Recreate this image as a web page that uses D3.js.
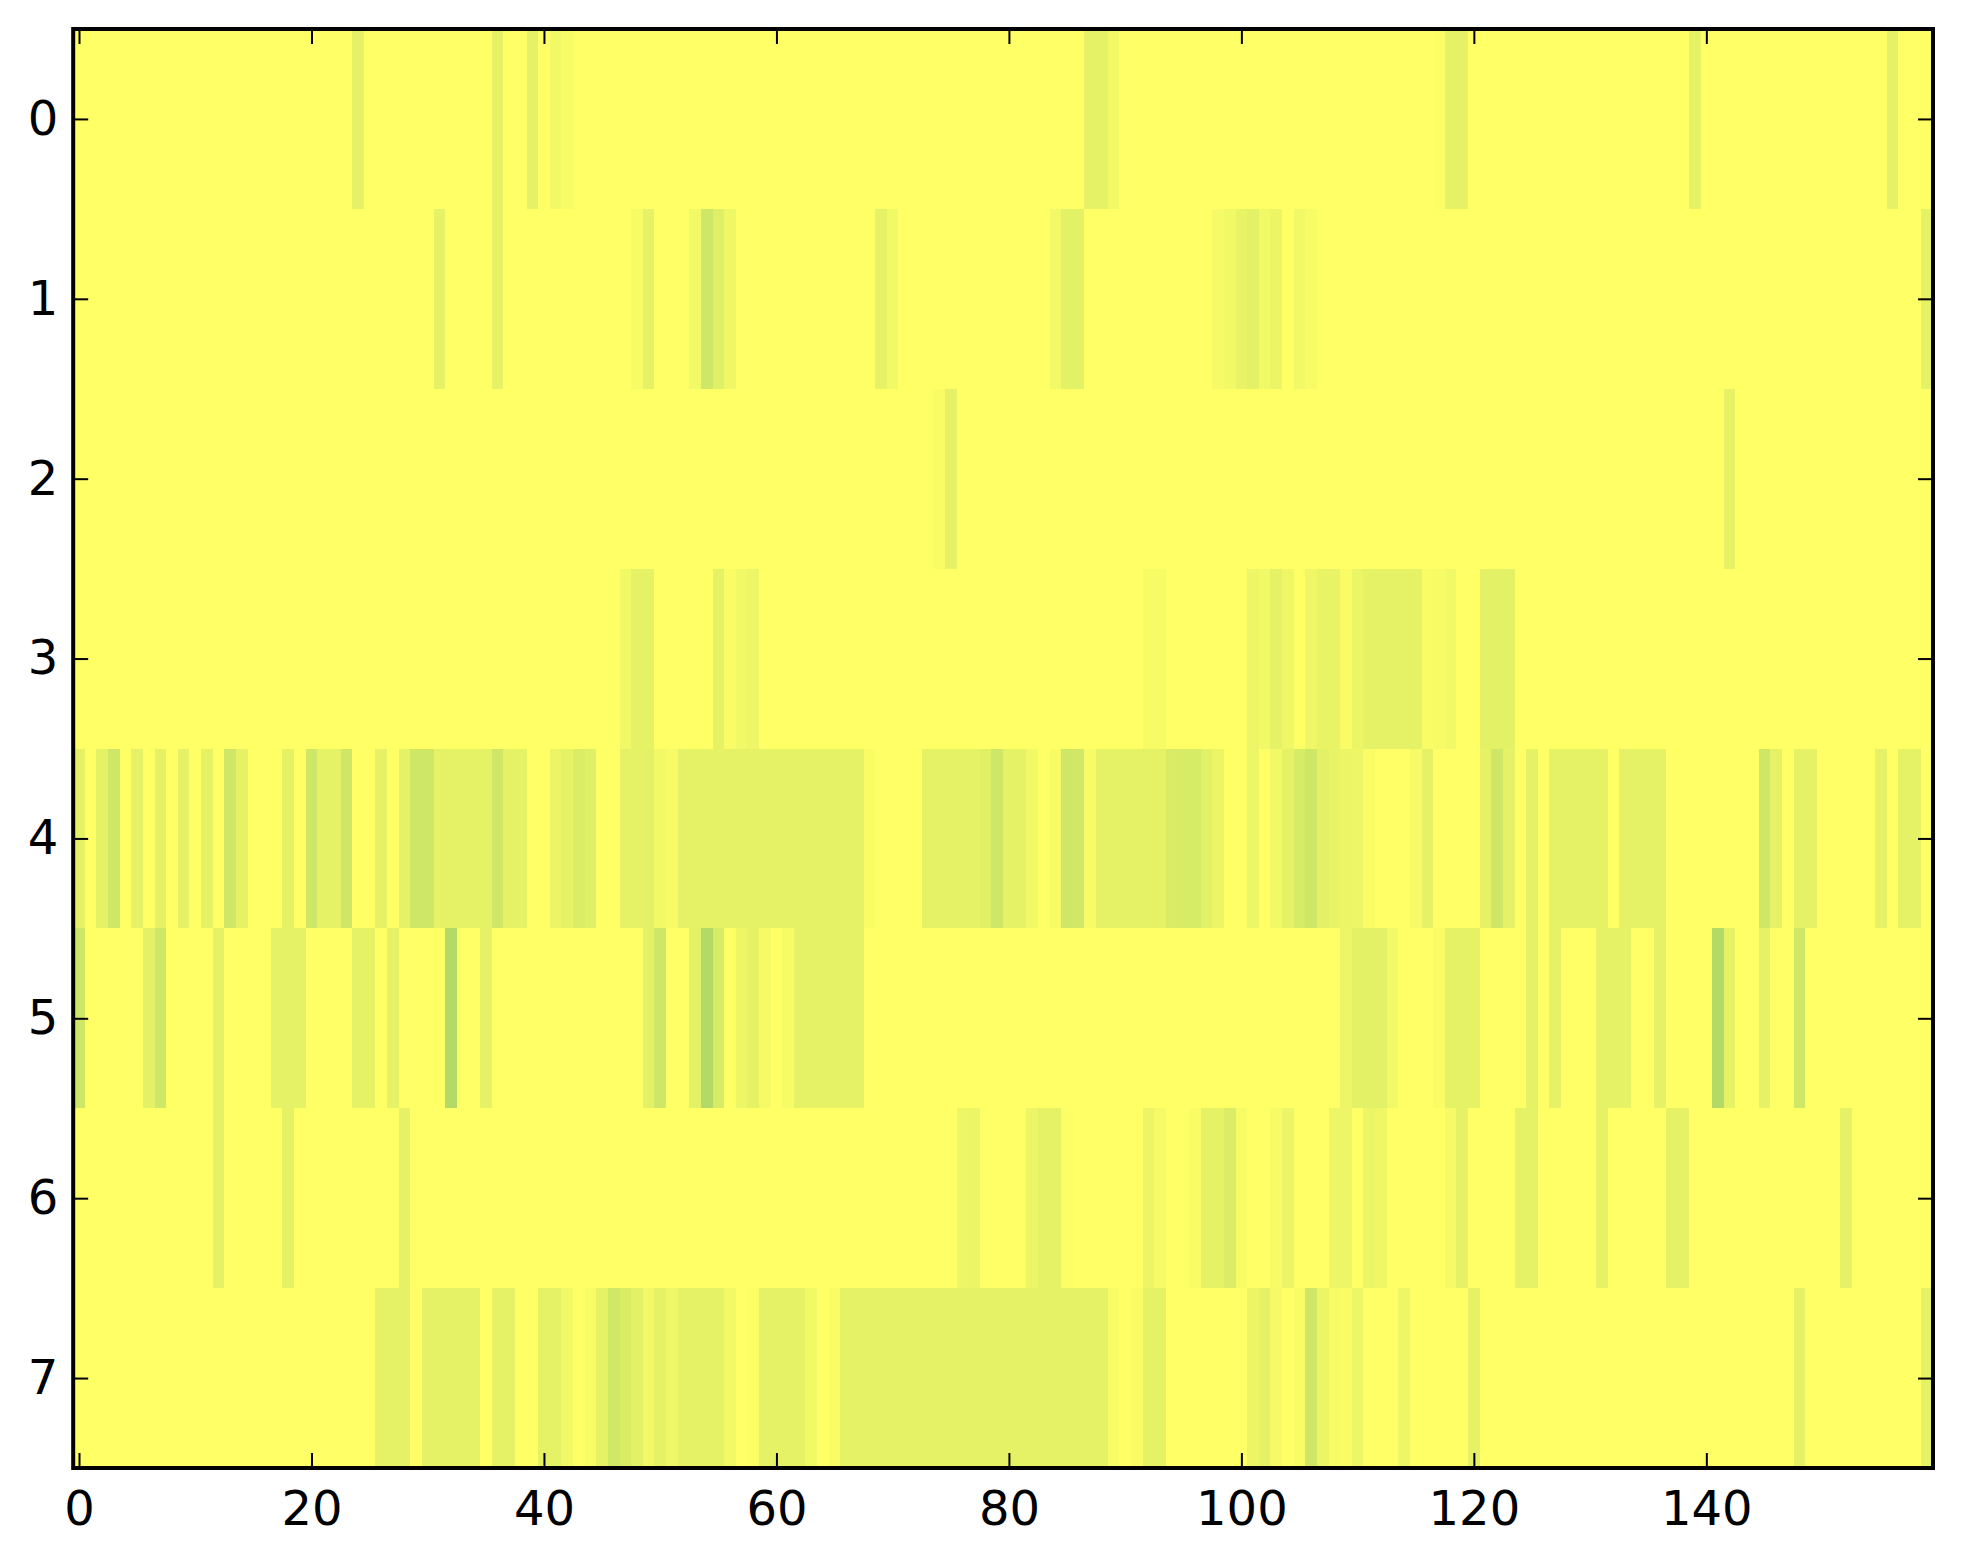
<!DOCTYPE html>
<html>
<head>
<meta charset="utf-8">
<script src="https://cdn.jsdelivr.net/npm/d3@7"></script>
<style>
html,body{margin:0;padding:0;background:#fff;overflow:hidden}
svg{display:block}
text{font-family:"DejaVu Sans",sans-serif;fill:#000}
</style>
</head>
<body>
<svg id="c" width="1963" height="1564"></svg>
<script>
const xTicks=[0,20,40,60,80,100,120,140];
const yTicks=[0,1,2,3,4,5,6,7];
const row0=[0,0,0,0,0,0,0,0,0,0, 0,0,0,0,0,0,0,0,0,0, 0,0,0,0,10,0,0,0,0,0, 0,0,0,0,0,0,10,0,0,10,
 0,5,3,0,0,0,0,0,0,0, 0,0,0,0,0,0,0,0,0,0, 0,0,0,0,0,0,0,0,0,0, 0,0,0,0,0,0,0,0,0,0,
 0,0,0,0,0,0,0,10,10,5, 0,0,0,0,0,0,0,0,0,0, 0,0,0,0,0,0,0,0,0,0, 0,0,0,0,0,0,0,1,10,10,
 0,0,0,0,0,0,0,0,0,0, 0,0,0,0,0,0,0,0,0,10, 0,0,0,0,0,0,0,0,0,0, 0,0,0,0,0,0,10,0,0,0];
const row1=[0,0,0,0,0,0,0,0,0,0, 0,0,0,0,0,0,0,0,0,0, 0,0,0,0,0,0,0,0,0,0, 0,10,0,0,0,0,10,0,0,0,
 0,0,0,0,0,0,0,0,3,10, 0,0,0,5,19,12,6,0,0,0, 0,0,0,0,0,0,0,0,0,10, 5,0,0,0,0,0,0,0,0,0,
 0,0,0,0,5,11,11,0,0,0, 0,0,0,0,0,0,0,0,4,5, 9,11,5,8,0,5,3,0,0,0, 0,0,0,0,0,0,0,0,0,0,
 0,0,0,0,0,0,0,0,0,0, 0,0,0,0,0,0,0,0,0,0, 0,0,0,0,0,0,0,0,0,0, 0,0,0,0,0,0,0,0,0,10];
const row2=[0,0,0,0,0,0,0,0,0,0, 0,0,0,0,0,0,0,0,0,0, 0,0,0,0,0,0,0,0,0,0, 0,0,0,0,0,0,0,0,0,0,
 0,0,0,0,0,0,0,0,0,0, 0,0,0,0,0,0,0,0,0,0, 0,0,0,0,0,0,0,0,0,0, 0,0,0,0,2,10,0,0,0,0,
 0,0,0,0,0,0,0,0,0,0, 0,0,0,0,0,0,0,0,0,0, 0,0,0,0,0,0,0,0,0,0, 0,0,0,0,0,0,0,0,0,0,
 0,0,0,0,0,0,0,0,0,0, 0,0,0,0,0,0,0,0,0,0, 0,0,10,0,0,0,0,0,0,0, 0,0,0,0,0,0,0,0,0,0];
const row3=[0,0,0,0,0,0,0,0,0,0, 0,0,0,0,0,0,0,0,0,0, 0,0,0,0,0,0,0,0,0,0, 0,0,0,0,0,0,0,0,0,0,
 0,0,0,0,0,0,0,5,10,10, 0,0,0,0,0,10,2,5,7,0, 0,0,0,0,0,0,0,0,0,0, 0,0,0,0,0,0,0,0,0,0,
 0,0,0,0,0,0,0,0,0,0, 0,0,3,3,0,0,0,0,0,0, 0,7,5,10,6,0,6,9,9,2, 8,10,10,10,10,10,2,3,5,0,
 0,11,11,11,0,0,0,0,0,0, 0,0,0,0,0,0,0,0,0,0, 0,0,0,0,0,0,0,0,0,0, 0,0,0,0,0,0,0,0,0,0];
const row4=[10,0,10,19,0,10,0,10,0,10, 0,10,0,19,10,0,0,0,10,0, 19,10,10,19,0,0,10,0,10,19, 19,10,10,10,10,10,19,10,10,0,
 0,8,10,14,12,0,0,10,10,11, 5,3,10,10,10,10,10,10,10,10, 10,10,10,10,10,10,10,10,2,0, 0,0,0,10,10,10,10,10,12,19,
 10,10,5,0,3,19,18,3,10,10, 10,10,10,10,15,16,16,11,8,0, 0,7,0,5,10,16,19,11,9,8, 7,2,0,0,0,4,10,0,0,0,
 0,10,19,10,0,10,0,10,10,10, 10,10,0,10,10,10,10,0,0,0, 0,0,0,0,0,19,10,0,10,10, 0,0,0,0,0,10,0,10,10,0];
const row5=[19,0,0,0,0,0,11,19,0,0, 0,0,10,0,0,0,0,10,10,10, 0,0,0,0,10,10,0,10,0,0, 0,0,30,0,0,10,0,0,0,0,
 0,0,0,0,0,0,0,0,0,11, 19,0,0,11,30,16,0,7,10,4, 0,3,10,10,10,10,10,10,0,0, 0,0,0,0,0,0,0,0,0,0,
 0,0,0,0,0,0,0,0,0,0, 0,0,0,0,0,0,0,0,0,0, 0,0,0,0,0,0,0,0,0,7, 11,11,11,5,0,0,0,2,10,10,
 10,0,0,0,0,10,0,10,0,0, 0,10,10,10,0,0,10,0,0,0, 0,30,10,0,0,10,0,0,19,0, 0,0,0,0,0,0,0,0,0,0];
const row6=[0,0,0,0,0,0,0,0,0,0, 0,0,10,0,0,0,0,0,10,0, 0,0,0,0,0,0,0,0,10,0, 0,0,0,0,0,0,0,0,0,0,
 0,0,0,0,0,0,0,0,0,0, 0,0,0,0,0,0,0,0,0,0, 0,0,0,0,0,0,0,0,0,0, 0,0,0,0,0,0,7,8,0,0,
 0,0,8,10,10,1,0,0,0,0, 0,0,8,4,0,0,2,10,10,14, 3,0,0,3,8,0,0,0,7,7, 0,8,6,0,0,0,0,0,4,10,
 0,0,0,0,10,10,0,0,0,0, 0,10,0,0,0,0,0,10,10,0, 0,0,0,0,0,0,0,0,0,0, 0,0,10,0,0,0,0,0,0,0];
const row7=[0,0,0,0,0,0,0,0,0,0, 0,0,0,0,0,0,0,0,0,0, 0,0,0,0,0,0,10,10,10,0, 10,10,10,10,10,0,10,10,0,0,
 10,10,5,0,3,10,18,15,11,5, 10,6,10,10,10,10,5,0,1,10, 10,10,10,5,0,2,10,10,10,10, 10,10,10,10,10,10,10,10,10,10,
 10,10,10,10,10,10,10,10,10,3, 0,2,10,10,0,0,0,0,0,0, 0,8,10,4,0,2,19,8,3,2, 7,0,0,0,7,0,0,0,0,0,
 10,0,0,0,0,0,0,0,0,0, 0,0,0,0,0,0,0,0,0,0, 0,0,0,0,0,0,0,0,10,0, 0,0,0,0,0,0,0,0,0,10];
const rows=[row0,row1,row2,row3,row4,row5,row6,row7];

const L=73.2,R=1933,T=29,B=1468;
const x=d3.scaleLinear().domain([-0.5,159.5]).range([L,R]);
const y=d3.scaleLinear().domain([-0.5,7.5]).range([T,B]);
const color=d3.scaleLinear().domain([0,100]).range(["#ffff66","#008066"]);
const svg=d3.select("#c");

const cells=svg.append("g").attr("shape-rendering","crispEdges");
rows.forEach((vals,r)=>{
  cells.selectAll(null).data(vals).enter().append("rect")
    .attr("x",(d,i)=>x(i-0.5))
    .attr("width",(d,i)=>x(i+0.5)-x(i-0.5)+0.5)
    .attr("y",y(r-0.5))
    .attr("height",y(r+0.5)-y(r-0.5)+0.5)
    .attr("fill",d=>color(d));
});

function style(g,showText){
  g.select(".domain").remove();
  g.selectAll("line").attr("stroke","#000").attr("stroke-width",2);
  g.selectAll("text").style("font-size","48px").style("font-family","DejaVu Sans");
  if(!showText) g.selectAll("text").remove();
}
const S=15;
svg.append("g").attr("transform",`translate(0,${B})`)
  .call(d3.axisBottom(x).tickValues(xTicks).tickSize(-S).tickPadding(23).tickFormat(d3.format("d")))
  .call(g=>style(g,true));
svg.append("g").attr("transform",`translate(0,${T})`)
  .call(d3.axisTop(x).tickValues(xTicks).tickSize(-S))
  .call(g=>style(g,false));
svg.append("g").attr("transform",`translate(${L},0)`)
  .call(d3.axisLeft(y).tickValues(yTicks).tickSize(-S).tickPadding(15).tickFormat(d3.format("d")))
  .call(g=>style(g,true));
svg.append("g").attr("transform",`translate(${R},0)`)
  .call(d3.axisRight(y).tickValues(yTicks).tickSize(-S))
  .call(g=>style(g,false));

svg.append("rect").attr("x",L).attr("y",T).attr("width",R-L).attr("height",B-T)
  .attr("fill","none").attr("stroke","#000").attr("stroke-width",4);
</script>
</body>
</html>
